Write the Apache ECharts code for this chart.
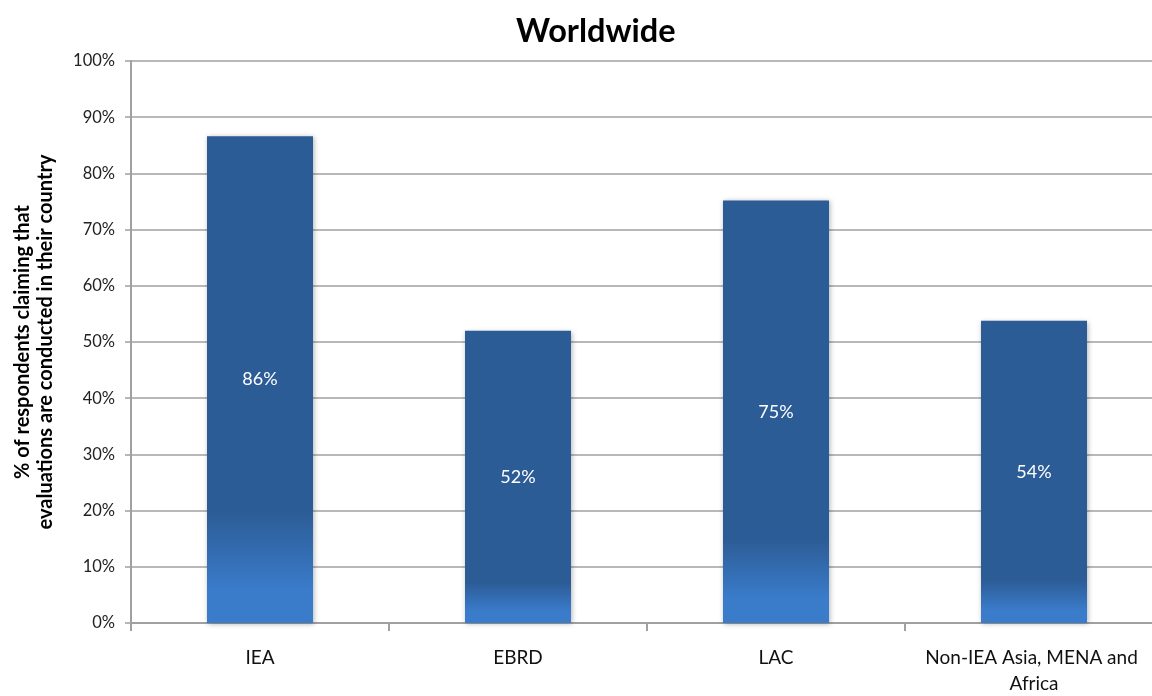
<!DOCTYPE html>
<html>
<head>
<meta charset="utf-8">
<script src="https://cdn.jsdelivr.net/npm/echarts@6/dist/echarts.min.js"></script>
<style>html,body{margin:0;padding:0;background:#fff}#c{width:1152px;height:696px}</style>
</head>
<body>
<div id="c"></div>
<script>
const categories = ['IEA', 'EBRD', 'LAC', 'Non-IEA Asia, MENA and Africa'];
const values = [86.6, 52.0, 75.2, 53.8];
const valueLabels = ['86%', '52%', '75%', '54%'];
const yTicks = [0, 10, 20, 30, 40, 50, 60, 70, 80, 90, 100];

const DARK = '#2c5c96';
const LIGHT = '#3a7bca';
const FONT = 'Lato, "Open Sans", sans-serif';

const chart = echarts.init(document.getElementById('c'));
chart.setOption({
  animation: false,
  title: {
    text: 'Worldwide',
    left: 511, top: 10,
    textStyle: { fontFamily: FONT, fontSize: 32.5, fontWeight: 'bold', color: '#000' }
  },
  grid: { left: 131, top: 61, height: 562, width: 1032, containLabel: false, outerBoundsMode: 'none' },
  xAxis: {
    type: 'category',
    data: categories,
    axisLine: { lineStyle: { color: '#a0a0a0', width: 2 } },
    axisTick: { show: true, interval: 0, length: 8, lineStyle: { color: '#a0a0a0', width: 2 } },
    axisLabel: {
      interval: 0,
      fontFamily: FONT, fontSize: 19, color: '#111', margin: 22,
      width: 250, overflow: 'break', lineHeight: 26
    }
  },
  yAxis: {
    type: 'value',
    min: 0, max: 100, interval: 10,
    name: '% of respondents claiming that\nevaluations are conducted in their country',
    nameLocation: 'middle',
    nameGap: 74,
    nameTextStyle: { fontFamily: FONT, fontSize: 20, fontWeight: 'bold', color: '#000', lineHeight: 23 },
    axisLine: { show: true, lineStyle: { color: '#a0a0a0', width: 2 } },
    axisTick: { show: true, length: 6, lineStyle: { color: '#a0a0a0', width: 1.5 } },
    axisLabel: {
      fontFamily: FONT, fontSize: 16.5, color: '#222', margin: 16,
      formatter: v => (yTicks.includes(v) ? v + '%' : '')
    },
    splitLine: { lineStyle: { color: '#a0a0a0', width: 1.5 } }
  },
  series: [{
    type: 'bar',
    barWidth: 106,
    data: values.map((v, i) => {
      const f = Math.min(0.00264 * v, 0.5);
      return {
        value: v,
        itemStyle: {
          color: {
            type: 'linear', x: 0, y: 0, x2: 0, y2: 1,
            colorStops: [
              { offset: 0, color: DARK },
              { offset: 1 - f, color: DARK },
              { offset: 1 - f * 0.3, color: LIGHT },
              { offset: 1, color: LIGHT }
            ]
          }
        }
      };
    }),
    itemStyle: {
      shadowBlur: 5, shadowColor: 'rgba(0,0,0,0.3)', shadowOffsetX: 1, shadowOffsetY: 1
    },
    label: {
      show: true, position: 'inside',
      formatter: p => valueLabels[p.dataIndex],
      fontFamily: FONT, fontSize: 18, color: '#fff'
    }
  }]
});
</script>
</body>
</html>
